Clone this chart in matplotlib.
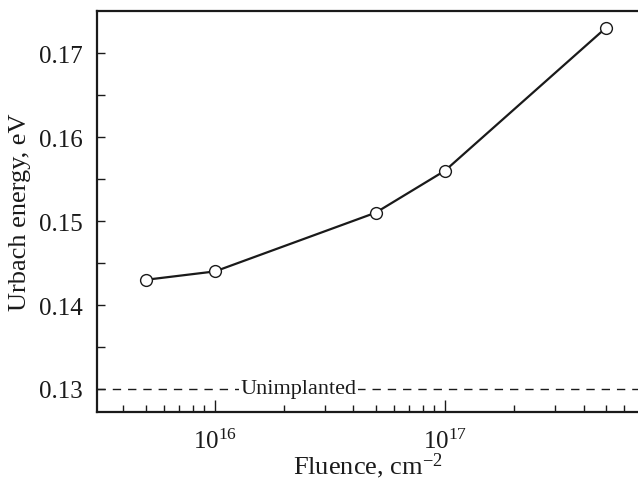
import math
import matplotlib
matplotlib.use("Agg")
import matplotlib.pyplot as plt
from matplotlib.ticker import LogLocator, FixedLocator, NullFormatter, FuncFormatter

plt.rcParams['font.family'] = ['Liberation Serif', 'DejaVu Serif']
plt.rcParams['mathtext.fontset'] = 'custom'
plt.rcParams['mathtext.rm'] = 'Liberation Serif'
plt.rcParams['mathtext.it'] = 'Liberation Serif:italic'

fluence = [5e15, 1e16, 5e16, 1e17, 5e17]
urbach = [0.143, 0.144, 0.151, 0.156, 0.173]
unimplanted = 0.130
y_major = [0.13, 0.14, 0.15, 0.16, 0.17]
y_labels = ['0.13', '0.14', '0.15', '0.16', '0.17']

fig = plt.figure(figsize=(6.38, 4.85), dpi=100)
ax = fig.add_axes([0.152, 0.1485, 0.848, 0.8265])

ax.plot(fluence, urbach, color='#1a1a1a', lw=1.6, marker='o', ms=8.5,
        mfc='white', mec='#1a1a1a', mew=1.0, zorder=3)
ax.axhline(unimplanted, color='#1a1a1a', lw=1.0, ls=(0, (6, 5)), zorder=2)
ax.text(2.3e16, unimplanted, 'Unimplanted', ha='center', va='center',
        fontsize=16, color='#1a1a1a',
        bbox=dict(facecolor='white', edgecolor='none', pad=1.0), zorder=4)

ax.set_xscale('log')
ax.set_xlim(3.07e15, 6.9e17)
ax.set_ylim(0.12726, 0.1750)

ax.xaxis.set_major_locator(FixedLocator([1e16, 1e17]))
ax.xaxis.set_major_formatter(FuncFormatter(lambda v, p: r'$10^{%d}$' % round(math.log10(v))))
ax.xaxis.set_minor_locator(LogLocator(base=10, subs=range(2, 10)))
ax.xaxis.set_minor_formatter(NullFormatter())

ax.yaxis.set_major_locator(FixedLocator(y_major))
ax.set_yticklabels(y_labels)
ax.yaxis.set_minor_locator(FixedLocator([0.135, 0.145, 0.155, 0.165]))

ax.tick_params(axis='both', which='both', direction='in', colors='#1a1a1a',
               labelsize=18, width=1.0)
ax.tick_params(axis='x', which='major', length=9, pad=12)
ax.tick_params(axis='x', which='minor', length=5)
ax.tick_params(axis='y', which='major', length=6, pad=10)
ax.tick_params(axis='y', which='minor', length=6)

for s in ['left', 'bottom', 'top']:
    ax.spines[s].set_linewidth(1.6)
    ax.spines[s].set_color('#1a1a1a')
ax.spines['right'].set_visible(False)

ax.set_xlabel(r'Fluence, cm$^{-2}$', fontsize=19, color='#1a1a1a', labelpad=-2)
ax.set_ylabel('Urbach energy, eV', fontsize=19, color='#1a1a1a', labelpad=6)

fig.savefig('out.png', dpi=100)
